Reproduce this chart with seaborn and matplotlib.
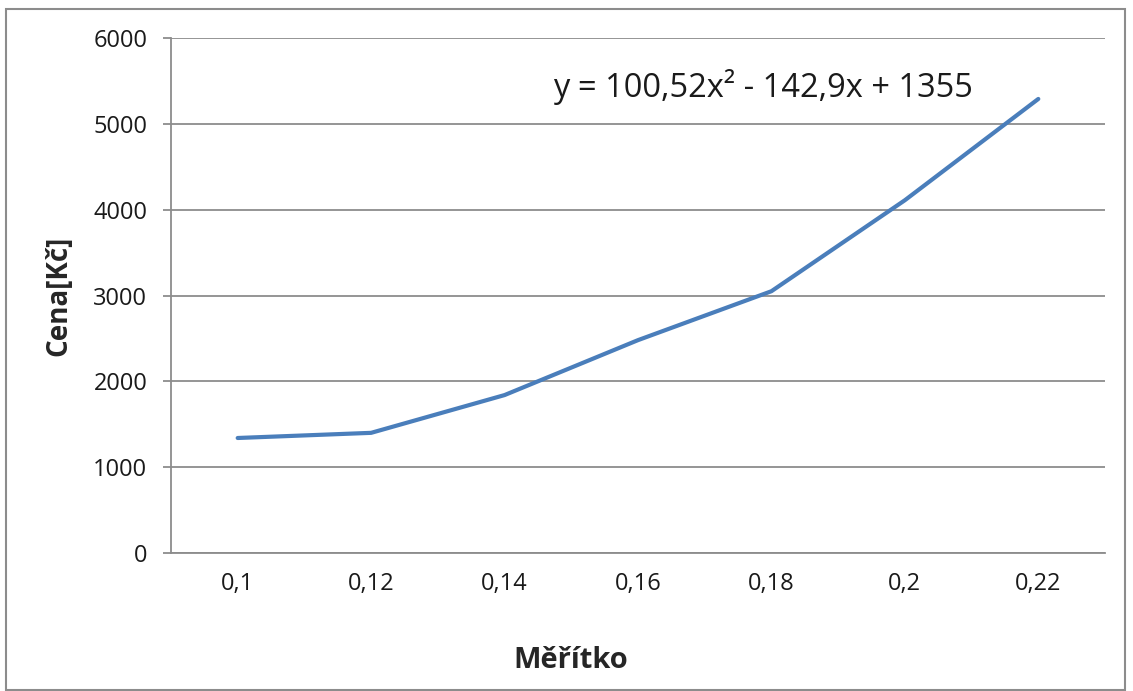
import matplotlib.pyplot as plt
import matplotlib.patches as patches
import seaborn as sns
import pandas as pd

## data
meritko = ["0,1", "0,12", "0,14", "0,16", "0,18", "0,2", "0,22"]
cena = [1340, 1400, 1840, 2480, 3050, 4110, 5290]
y_ticks = [0, 1000, 2000, 3000, 4000, 5000, 6000]

df = pd.DataFrame({"Měřítko": meritko, "Cena": cena})

sns.set_style("white")
plt.rcParams['font.family'] = ['Open Sans', 'DejaVu Sans']

fig = plt.figure(figsize=(11.33, 6.91), dpi=100)
ax = fig.add_axes([0.1509, 0.1997, 0.8244, 0.7453])

sns.lineplot(x="Měřítko", y="Cena", data=df, sort=False, ax=ax,
             color="#4a7ebb", linewidth=3)

ax.set_xlim(-0.5, len(meritko) - 0.5)
ax.set_ylim(0, 6000)
ax.set_yticks(y_ticks)
ax.set_yticklabels([str(v) for v in y_ticks])
ax.yaxis.grid(True, color="#8c8c8c", linewidth=1.3)
ax.xaxis.grid(False)

## excel style ticks between categories
ax.set_xticks(range(len(meritko)))
ax.set_xticklabels(meritko)
ax.set_xticks([i - 0.5 for i in range(len(meritko) + 1)], minor=True)
ax.tick_params(axis="x", which="major", length=0, pad=14, labelsize=17, labelcolor="#1a1a1a")
ax.tick_params(axis="x", which="minor", length=6, width=1.3, color="#8c8c8c", direction="out")
ax.tick_params(axis="y", length=6, width=1.3, color="#8c8c8c", direction="out", pad=11,
               labelsize=17, labelcolor="#1a1a1a", left=True)

for s in ["top", "right"]:
    ax.spines[s].set_visible(False)
for s in ["left", "bottom"]:
    ax.spines[s].set_color("#8c8c8c")
    ax.spines[s].set_linewidth(1.3)

ax.set_xlabel("Měřítko", fontsize=21, fontweight="bold")
ax.xaxis.set_label_coords(0.428, -0.18)
ax.set_ylabel("Cena[Kč]", fontsize=20, fontweight="bold", labelpad=14)

ax.text(0.409, 0.905, "y = 100,52x² - 142,9x + 1355", transform=ax.transAxes,
        fontsize=23.5, color="#1a1a1a", va="center")

fig.patches.append(patches.Rectangle((0.005, 0.002), 0.988, 0.985, transform=fig.transFigure,
                                     fill=False, edgecolor="#8c8c8c", linewidth=1.5))

plt.savefig("out.png", dpi=100)
